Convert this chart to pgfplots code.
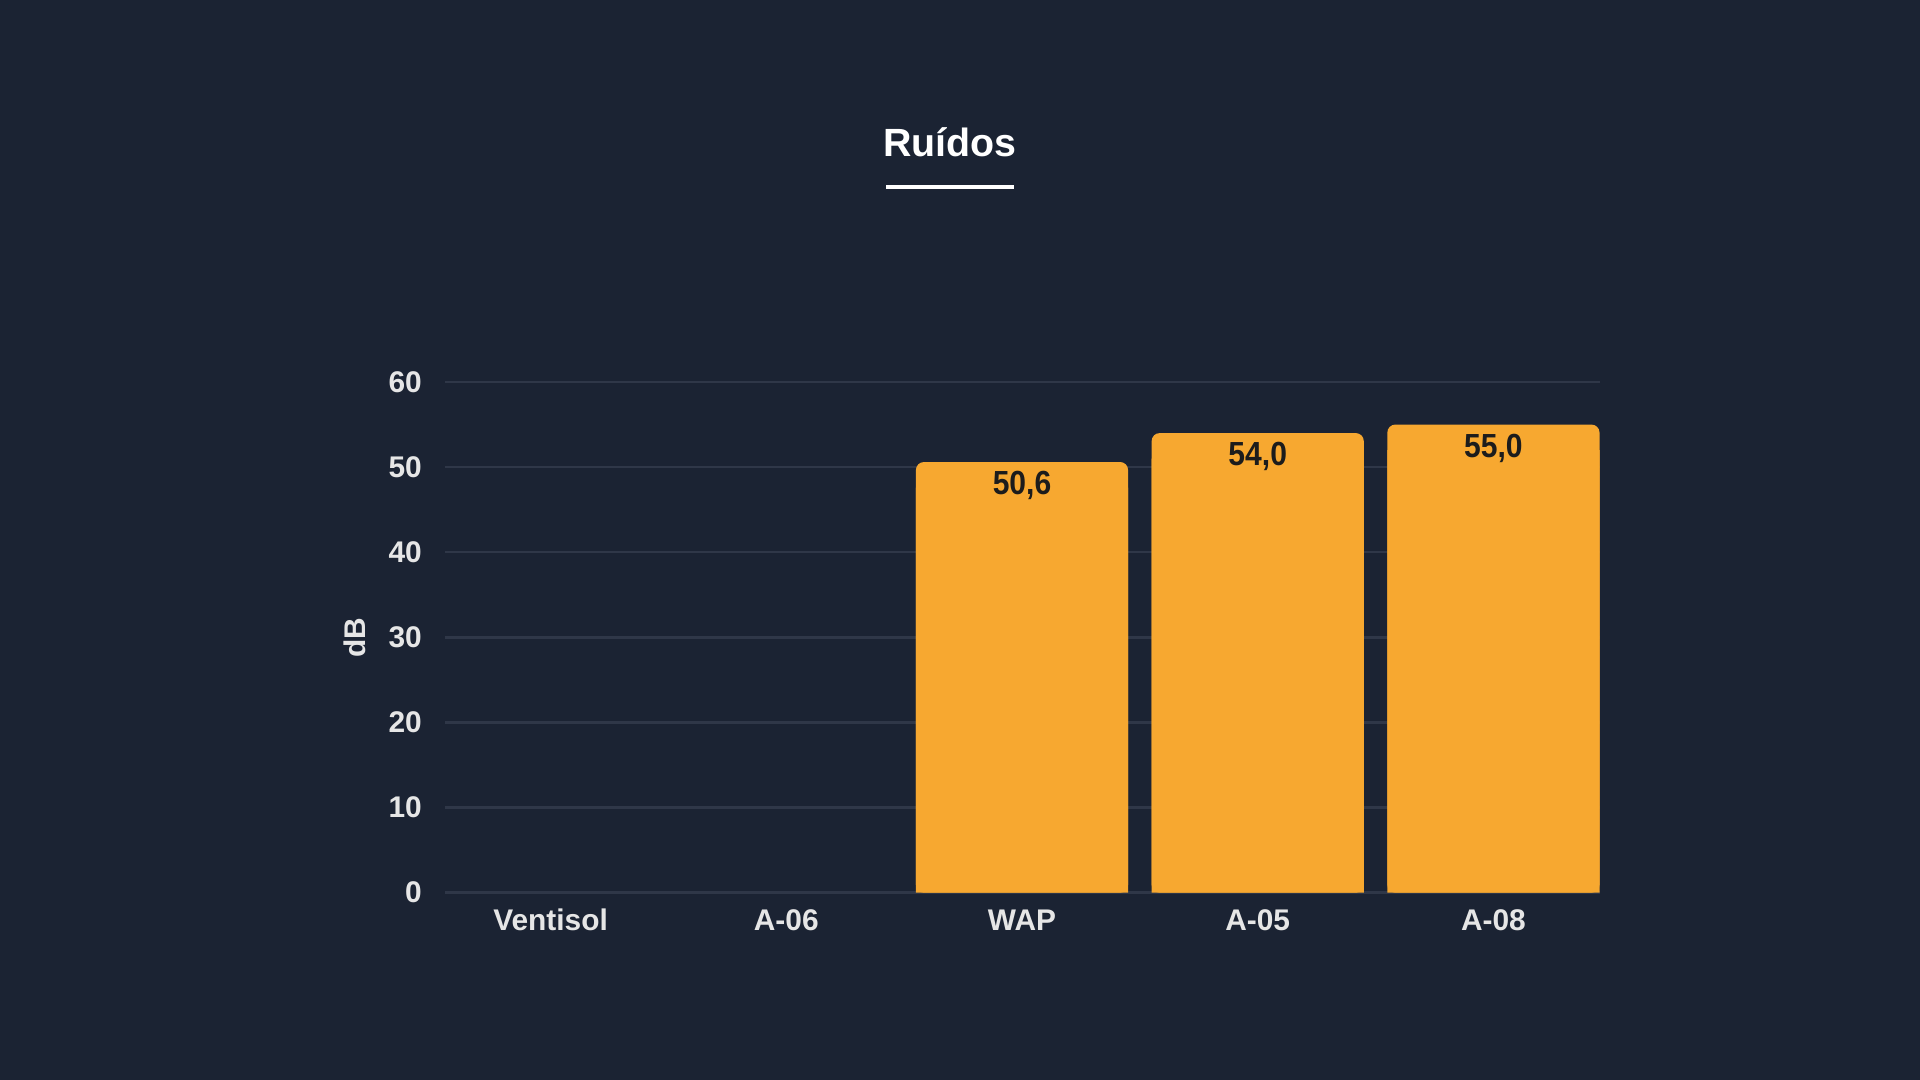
\documentclass[border=0pt]{standalone}
\usepackage{pgfplots}
\pgfplotsset{compat=1.18}
\usepackage{pgfplotstable}
\usepackage{fontspec}
\setmainfont{Liberation Sans}
\newfontfamily\condfont[FakeStretch=0.9]{Liberation Sans}
\definecolor{bg}{HTML}{1B2333}
\definecolor{barc}{HTML}{F7A830}
\definecolor{gridc}{HTML}{2F3748}
\definecolor{tickc}{HTML}{E6E6E6}
\definecolor{valc}{HTML}{1C1C1C}
\pgfplotstableread{
x v
2 50.6
3 54.0
4 55.0
}\datatable
\begin{document}
\begin{tikzpicture}
\fill[bg] (0,0) rectangle (19.2,10.8);
\node[text=white, font=\fontsize{11.2}{13}\selectfont\bfseries] at (9.50,9.38) {Ruídos};
\draw[white, line width=0.04cm] (8.86,8.93) -- (10.14,8.93);
\begin{axis}[
  at={(4.445cm,1.873cm)}, anchor=south west,
  scale only axis, width=11.55cm, height=5.107cm,
  xmin=-0.45, xmax=4.45, ymin=0, ymax=60,
  ytick={0,10,...,60},
  xtick={0,1,2,3,4},
  xticklabels={Ventisol,A-06,WAP,A-05,A-08},
  axis line style={draw=none},
  major tick length=0pt,
  ymajorgrids,
  grid style={gridc, line width=0.7pt},
  /pgf/number format/assume math mode=true,
  tick label style={text=tickc, font=\fontsize{8.5}{10}\selectfont\bfseries},
  yticklabel style={anchor=east, inner sep=0pt, xshift=-0.22cm},
  xticklabel style={anchor=base, inner sep=0pt, yshift=-0.375cm},
  ylabel={dB},
  ylabel style={at={(axis description cs:-0.0775,0.5)}, anchor=center, text=tickc, font=\fontsize{8.5}{10}\selectfont\bfseries},
  ybar, bar width=0.9,
]
\addplot[fill=barc, draw=none, forget plot] table[x=x, y expr=\thisrow{v}-3] {\datatable};
\addplot[fill=barc, draw=none, rounded corners=0.08cm,
  nodes near coords={\pgfmathprintnumber[fixed,fixed zerofill,precision=1,use comma]{\pgfplotspointmeta}},
  every node near coord/.append style={anchor=center, yshift=-0.235cm, text=valc, font=\condfont\fontsize{9.5}{11}\selectfont\bfseries}
] table[x=x, y=v] {\datatable};
\end{axis}
\end{tikzpicture}
\end{document}
